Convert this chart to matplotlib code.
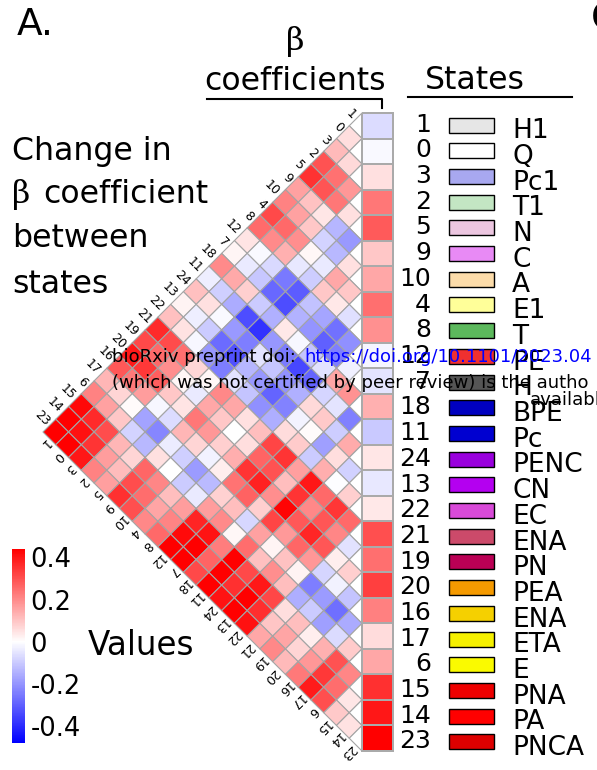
import numpy as np
import matplotlib
matplotlib.use('Agg')
import matplotlib.pyplot as plt
from matplotlib.colors import LinearSegmentedColormap, Normalize
from matplotlib.patches import Rectangle
from matplotlib.cm import ScalarMappable

# States in plot order, their names, legend colours and beta coefficients
states = [1, 0, 3, 2, 5, 9, 10, 4, 8, 12, 7, 18, 11, 24, 13, 22, 21, 19, 20, 16, 17, 6, 15, 14, 23]
state_names = ['H1', 'Q', 'Pc1', 'T1', 'N', 'C', 'A', 'E1', 'T', 'PE', 'H', 'BPE', 'Pc',
               'PENC', 'CN', 'EC', 'ENA', 'PN', 'PEA', 'ENA', 'ETA', 'E', 'PNA', 'PA', 'PNCA']
state_colors = ['#e6e6e6', '#ffffff', '#a8a8f0', '#c3e6c3', '#ecc6e0', '#e88af5', '#fcdcaa',
                '#ffff99', '#5cb85c', '#f03030', '#555555', '#0000c0', '#0000d0', '#9900dd',
                '#b400f0', '#d84ad8', '#cc4a6a', '#bb0055', '#f59a00', '#f5d000', '#f5f000',
                '#fafa00', '#ee0000', '#ff0000', '#dd0000']
beta = np.array([-0.066, -0.01, 0.053, 0.233, 0.285, 0.095, 0.15, 0.247, 0.19, -0.02,
                 -0.05, 0.136, -0.10, 0.043, -0.043, 0.04, 0.30, 0.247, 0.33, 0.22,
                 0.06, 0.15, 0.357, 0.40, 0.45])
cbar_ticks = [0.4, 0.2, 0, -0.2, -0.4]
cbar_labels = ['0.4', '0.2', '0', '-0.2', '-0.4']

n = len(states)
# change in beta between states: column state minus row state
diff = beta[None, :] - beta[:, None]
rows, cols = np.indices((n, n))
diff = np.ma.masked_where(rows > cols, diff)

vmin, vmax = -0.48, 0.44
cmap = LinearSegmentedColormap.from_list(
    'vals', [(0, '#0000ff'), (-vmin / (vmax - vmin), '#ffffff'), (1, '#ff0000')])
norm = Normalize(vmin, vmax)

fig = plt.figure(figsize=(5.97, 7.70), dpi=100)
ax = fig.add_axes([0, 0, 1, 1])
ax.set_xlim(0, 597)
ax.set_ylim(770, 0)
ax.axis('off')

# rotated heatmap geometry (pixels)
x0 = 362.0
h = 12.76
yd = 113.0 + h
r, c = np.indices((n + 1, n + 1))
X = x0 - (c - r) * h
Y = yd + (r + c - 1) * h
mesh = ax.pcolor(X, Y, diff, cmap=cmap, norm=norm, edgecolors='#a4a4a4', linewidth=0.8)
clip = Rectangle((0, 0), x0, 770, transform=ax.transData)
mesh.set_clip_path(clip)

# edge labels
off = 2.0
for j, s in enumerate(states):
    cx, cy = x0 - j * h, yd + j * h
    ax.text(cx - h / 2 - off, cy - h / 2 - off, str(s), rotation=-45, ha='right',
            va='center', rotation_mode='anchor', fontsize=9)
for i, s in enumerate(states):
    cx, cy = x0 - (n - 1 - i) * h, yd + (i + n - 1) * h
    ax.text(cx - h / 2 - off, cy + h / 2 + off, str(s), rotation=-135, ha='left',
            va='center', rotation_mode='anchor', fontsize=9)

# beta coefficient column
bx = np.array([x0, 393.0])
by = 113.0 + 2 * h * np.arange(n + 1)
ax.pcolormesh(bx, by, beta[:, None], cmap=cmap, norm=norm, edgecolors='#aaaaaa', linewidth=1.2)

# state legend
step = 25.7
for k, (s, name, col) in enumerate(zip(states, state_names, state_colors)):
    ax.text(431, 131.7 + step * k, str(s), ha='right', va='baseline', fontsize=18)
    ax.add_patch(Rectangle((449, 117.5 + step * k), 45, 15, facecolor=col,
                           edgecolor='black', linewidth=1))
    ax.text(512, 138.3 + step * k, name, ha='left', va='baseline', fontsize=19)

# headers
ax.text(17, 35, 'A.', fontsize=27, va='baseline')
ax.text(591, 30, 'C', fontsize=26.5, va='baseline')
ax.text(295, 50, 'β', fontsize=23, ha='center', va='baseline', family='DejaVu Serif')
ax.text(295, 90, 'coefficients', fontsize=22.7, ha='center', va='baseline')
ax.plot([207, 382, 382], [99, 99, 108], color='black', lw=1.5)
ax.text(475, 89.3, 'States', fontsize=22.7, ha='center', va='baseline')
ax.plot([408, 572], [97, 97], color='black', lw=1.5)

ax.text(12, 160, 'Change in', fontsize=22.7, va='baseline')
ax.text(12, 203, 'β', fontsize=22.7, va='baseline', family='DejaVu Serif')
ax.text(43, 203, 'coefficient', fontsize=22.7, va='baseline')
ax.text(12, 247, 'between', fontsize=22.7, va='baseline')
ax.text(12, 293, 'states', fontsize=22.7, va='baseline')

# colour bar
cax = fig.add_axes([12 / 597, 1 - 743 / 770, 13 / 597, 194 / 770])
cb = fig.colorbar(ScalarMappable(norm=norm, cmap=cmap), cax=cax)
cb.outline.set_visible(False)
cax.set_yticks(cbar_ticks)
cax.set_yticklabels(cbar_labels)
cax.tick_params(length=0, pad=4, labelsize=18.5)
ax.text(88, 655, 'Values', fontsize=23.5, va='baseline')

# preprint watermark
ax.text(112, 362, 'bioRxiv preprint doi:', fontsize=13, va='baseline', zorder=10)
ax.text(304, 362, 'https://doi.org/10.1101/2023.04', fontsize=13, va='baseline',
        color='#0000ff', zorder=10)
ax.text(112, 388, '(which was not certified by peer review) is the autho', fontsize=13,
        va='baseline', zorder=10)
ax.text(530, 405, 'availabl', fontsize=13, va='baseline', zorder=10)

fig.savefig('out.png', dpi=100)
